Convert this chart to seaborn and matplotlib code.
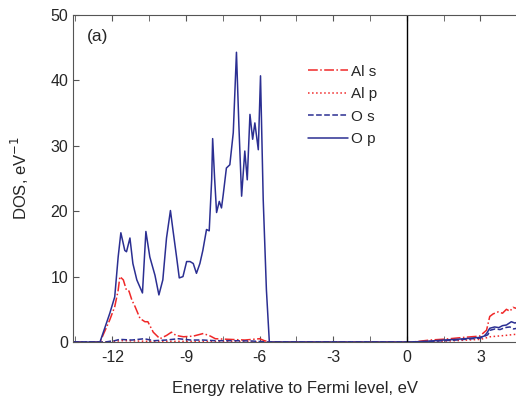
import matplotlib
matplotlib.use("Agg")
import matplotlib.pyplot as plt
import seaborn as sns
from matplotlib.ticker import MultipleLocator

# energies (eV, relative to Fermi level) and partial DOS
op_e = [-13.6, -12.5, -12.1, -11.9, -11.76, -11.65, -11.49, -11.42, -11.28, -11.16,
        -11.0, -10.77, -10.63, -10.47, -10.26, -10.1, -9.94, -9.79, -9.63, -9.53,
        -9.38, -9.27, -9.12, -8.97, -8.83, -8.7, -8.57, -8.43, -8.31, -8.16, -8.05,
        -7.95, -7.91, -7.83, -7.75, -7.64, -7.55, -7.48, -7.35, -7.21, -7.07, -6.94,
        -6.84, -6.73, -6.6, -6.5, -6.39, -6.28, -6.19, -6.05, -5.96, -5.85, -5.72,
        -5.6, 0.0, 0.5, 1.0, 1.5, 2.0, 2.5, 2.97, 3.15, 3.25, 3.38, 3.58, 3.75, 3.9,
        4.06, 4.26, 4.4, 4.5]
op_d = [0, 0, 4.4, 6.9, 13, 16.7, 14, 13.8, 15.9, 12,
        9.5, 7.5, 16.9, 13, 10.2, 7.2, 9.5, 15.9, 20.1, 17.2,
        13, 9.8, 10, 12.3, 12.3, 12, 10.5, 12, 14, 17.2, 17.0,
        24.8, 31.1, 25, 19.8, 21.5, 20.5, 22.5, 26.6, 27.1, 32, 44.3,
        33, 22.3, 29.2, 24.8, 34.8, 31, 33.5, 29.4, 40.7, 21.8, 8,
        0, 0, 0.05, 0.15, 0.3, 0.4, 0.55, 0.7, 0.9, 1.3, 2.1, 2.3, 2.2, 2.5,
        2.6, 3.1, 2.9, 3.0]

os_e = [-13.6, -12.3, -11.9, -11.7, -11.2, -10.7, -10.3, -9.8, -9.3, -8.8, -8.3,
        -7.8, -7.0, -6.3, -5.7, 0.3, 1.0, 2.0, 3.0, 3.3, 3.4, 3.6, 3.8, 4.0, 4.2,
        4.35, 4.5]
os_d = [0, 0, 0.2, 0.4, 0.3, 0.5, 0.2, 0.3, 0.5, 0.3, 0.3,
        0.2, 0.2, 0.15, 0, 0, 0.1, 0.3, 0.6, 1.1, 1.8, 2.0, 1.9, 2.2, 2.3,
        2.0, 2.1]

als_e = [-13.6, -12.5, -12.1, -11.9, -11.76, -11.69, -11.55, -11.42, -11.32, -11.2,
         -11.07, -10.87, -10.67, -10.55, -10.33, -10.06, -9.79, -9.59, -9.4, -9.1,
         -8.7, -8.29, -8.0, -7.8, -7.2, -6.6, -6.0, -5.8, -5.6, 0.25, 0.94, 1.6, 2.3,
         2.97, 3.25, 3.38, 3.52, 3.72, 3.9, 4.06, 4.2, 4.33, 4.5]
als_d = [0, 0, 3.4, 5.4, 7.9, 10.0, 9.5, 7.9, 7.8, 6.4,
         5.4, 3.6, 3.1, 3.1, 1.5, 0.5, 1.0, 1.5, 1.0, 0.8,
         0.9, 1.3, 0.9, 0.5, 0.4, 0.3, 0.5, 0.2, 0, 0, 0.3, 0.45, 0.7,
         0.9, 1.8, 3.9, 4.3, 4.6, 4.4, 5.0, 4.7, 5.3, 5.1]

alp_e = [-13.6, -12.3, -11.6, -10.5, -9.0, -7.0, -5.6, 0.5, 2.0, 3.0, 3.4, 4.0, 4.5]
alp_d = [0, 0, 0.2, 0.1, 0.1, 0.05, 0, 0, 0.2, 0.4, 0.8, 1.0, 1.2]

red = '#f02828'
navy = '#2b2f92'

sns.set_style("ticks")
plt.rcParams['font.family'] = ['Liberation Sans', 'DejaVu Sans']
plt.rcParams['axes.unicode_minus'] = False

fig = plt.figure(figsize=(5.16, 3.99), dpi=100)
ax = fig.add_axes([73/516, 57/399, (516-73)/516, (342-15)/399])

sns.lineplot(x=als_e, y=als_d, ax=ax, color=red, linestyle='-.', lw=1.1, label='Al s')
sns.lineplot(x=alp_e, y=alp_d, ax=ax, color=red, linestyle=':', lw=1.1, label='Al p')
sns.lineplot(x=os_e, y=os_d, ax=ax, color=navy, linestyle='--', lw=1.1, label='O s')
sns.lineplot(x=op_e, y=op_d, ax=ax, color=navy, linestyle='-', lw=1.1, label='O p')
ax.axvline(0, color='black', lw=1.0)

ax.set_xlim(-13.6, 4.45)
ax.set_ylim(0, 50)
ax.xaxis.set_major_locator(MultipleLocator(3))
ax.xaxis.set_minor_locator(MultipleLocator(1.5))
ax.yaxis.set_major_locator(MultipleLocator(10))
ax.tick_params(axis='both', which='both', direction='in', top=True, labelsize=11.5,
               color='#555555', length=4)
ax.tick_params(axis='x', pad=6)
for s in ['left', 'top', 'bottom']:
    ax.spines[s].set_color('#555555')
ax.spines['right'].set_visible(False)

ax.set_xlabel('Energy relative to Fermi level, eV', fontsize=12, labelpad=11)
ax.set_ylabel('DOS, eV$^{-1}$', fontsize=12, labelpad=14)
ax.text(0.031, 0.958, '(a)', transform=ax.transAxes, fontsize=12.5, va='top')

ax.legend(loc='upper left', bbox_to_anchor=(0.5, 0.89), frameon=False, fontsize=11,
          handlelength=2.6, handletextpad=0.2, labelspacing=0.55)

fig.savefig('out.png', dpi=100)
